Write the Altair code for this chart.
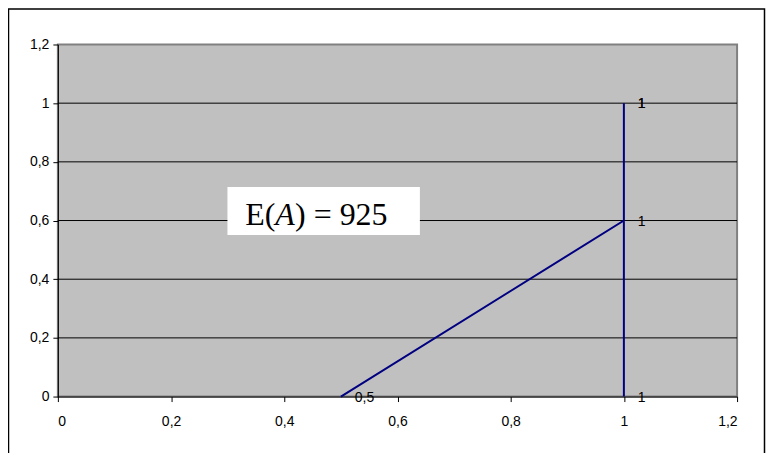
import altair as alt
import pandas as pd

# series (x, y) in drawing order
xs = [0.5, 1.0, 1.0, 1.0, 1.0]
ys = [0.0, 0.6, 1.0, 1.0, 0.0]
order = [0, 1, 2, 3, 4]

ticks = [0, 0.2, 0.4, 0.6, 0.8, 1.0, 1.2]
grid_vals = [0.2, 0.4, 0.6, 0.8, 1.0]

# annotation box (data units) and text
box_x = [0.2996]
box_x2 = [0.6396]
box_y = [0.551]
box_y2 = [0.714]
ann_x = [0.331]
ann_y = [0.585]

df = pd.DataFrame({"x": xs, "y": ys, "o": order})
grid_df = pd.DataFrame({"y": grid_vals})
box_df = pd.DataFrame({"x": box_x, "x2": box_x2, "y": box_y, "y2": box_y2})
ann_df = pd.DataFrame({"x": ann_x, "y": ann_y})

lab = "replace(toString(datum.value), '.', ',')"
xscale = alt.Scale(domain=[0, 1.2], nice=False)
yscale = alt.Scale(domain=[0, 1.2], nice=False)

xaxis = alt.Axis(values=ticks, labelExpr=lab, grid=False, tickSize=5, labelPadding=13,
                 domainColor="black", tickColor="black", labelColor="black",
                 labelFont="Liberation Sans", labelFontSize=14, title=None)
yaxis = alt.Axis(values=ticks, labelExpr=lab, grid=False, tickSize=5, labelPadding=4,
                 domainColor="black", tickColor="black", labelColor="black",
                 labelFont="Liberation Sans", labelFontSize=14, title=None)

base = alt.Chart(df)

grid = alt.Chart(grid_df).mark_rule(color="black", strokeWidth=1).encode(
    y=alt.Y("y:Q", scale=yscale, axis=yaxis)
)

line = base.mark_line(color="#000080", strokeWidth=2).encode(
    x=alt.X("x:Q", scale=xscale, axis=xaxis),
    y=alt.Y("y:Q", scale=yscale, axis=yaxis),
    order="o:Q",
)

labels = base.transform_calculate(
    lbl="replace(toString(datum.x), '.', ',')"
).mark_text(align="left", baseline="middle", dx=14, dy=1, font="Liberation Sans",
            fontSize=14, color="black").encode(
    x=alt.X("x:Q", scale=xscale),
    y=alt.Y("y:Q", scale=yscale),
    text="lbl:N",
)

box = alt.Chart(box_df).mark_rect(color="white").encode(
    x=alt.X("x:Q", scale=xscale), x2="x2:Q",
    y=alt.Y("y:Q", scale=yscale), y2="y2:Q",
)

t1 = alt.Chart(ann_df).mark_text(text="E(", align="left", baseline="alphabetic",
                                  font="Liberation Serif", fontSize=32, color="black").encode(
    x=alt.X("x:Q", scale=xscale), y=alt.Y("y:Q", scale=yscale))
t2 = alt.Chart(ann_df).mark_text(text="A", align="left", baseline="alphabetic", dx=30,
                                  font="Liberation Serif", fontStyle="italic", fontSize=32,
                                  color="black").encode(
    x=alt.X("x:Q", scale=xscale), y=alt.Y("y:Q", scale=yscale))
t3 = alt.Chart(ann_df).mark_text(text=") = 925", align="left", baseline="alphabetic", dx=50,
                                  font="Liberation Serif", fontSize=32, color="black").encode(
    x=alt.X("x:Q", scale=xscale), y=alt.Y("y:Q", scale=yscale))

frame = alt.Chart(ann_df).mark_rect(filled=False, stroke="black", strokeWidth=1.5).encode(
    x=alt.value(-49.5), x2=alt.value(708.5), y=alt.value(-35.5), y2=alt.value(480)
)

chart = alt.layer(grid, line, labels, box, t1, t2, t3, frame).properties(
    width=681, height=353,
    padding={"left": 50, "top": 36, "right": 29, "bottom": 56},
    autosize=alt.AutoSizeParams(type="none"),
).configure(
    background="white"
).configure_view(
    fill="#C0C0C0", stroke="#808080", strokeWidth=2
)

chart.save("out.html", embed_options={"renderer": "svg", "actions": False})
